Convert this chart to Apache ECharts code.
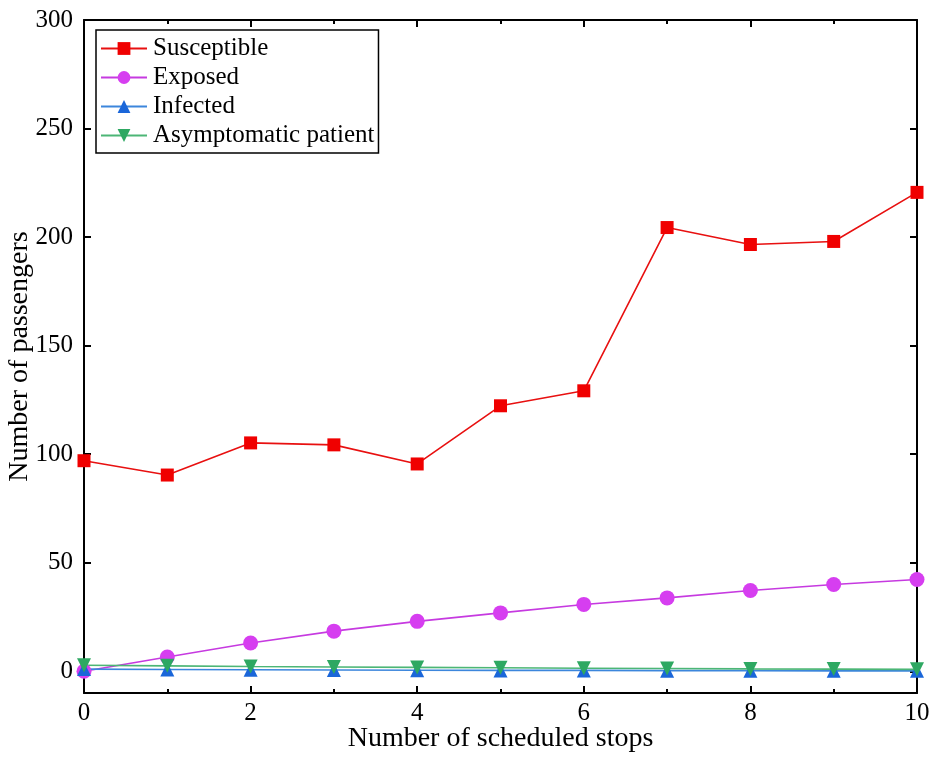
<!DOCTYPE html>
<html>
<head>
<meta charset="utf-8">
<script src="https://cdn.jsdelivr.net/npm/echarts@6/dist/echarts.min.js"></script>
<style>
html, body { margin: 0; padding: 0; background: #fff; }
#chart { width: 935px; height: 757px; }
</style>
</head>
<body>
<div id="chart"></div>
<script>
// 数据
const stops = [0, 1, 2, 3, 4, 5, 6, 7, 8, 9, 10];
const susceptible = [97, 90.4, 105.2, 104.3, 95.5, 122.3, 129.2, 204.4, 196.6, 198, 220.6];
const exposed = [0, 6.6, 13, 18.5, 23, 26.9, 30.8, 33.8, 37.2, 40, 42.3];
const infected = [1, 0.8, 0.7, 0.6, 0.5, 0.4, 0.4, 0.3, 0.3, 0.2, 0.2];
const asymptomatic = [2.8, 2.5, 2.2, 2, 1.8, 1.6, 1.4, 1.3, 1.1, 1.0, 0.9];
const yTicks = [0, 50, 100, 150, 200, 250, 300];

const chart = echarts.init(document.getElementById('chart'));
const font = 'Liberation Serif';

// 组合 [x, y]
const pairs = arr => stops.map((x, i) => [x, arr[i]]);

// 边框轴的公共样式
const axisLine = { show: true, onZero: false, lineStyle: { color: '#000', width: 2 } };

function makeSeries(name, data, color, lineColor, symbol, size, rotate) {
    return {
        name: name,
        type: 'line',
        data: pairs(data),
        symbol: symbol,
        symbolSize: size,
        symbolRotate: rotate || 0,
        lineStyle: { color: lineColor, width: 1.6 },
        itemStyle: { color: color },
        emphasis: { disabled: true },
        z: 3
    };
}

chart.setOption({
    backgroundColor: '#fff',
    animation: false,
    textStyle: { fontFamily: font },
    grid: { left: 84, right: 18, top: 20, bottom: 64, outerBoundsMode: 'none' },
    legend: {
        orient: 'vertical',
        left: 96,
        top: 30,
        padding: [6, 4, 5, 4],
        itemGap: 4,
        itemWidth: 46,
        itemHeight: 16,
        borderColor: '#000',
        borderWidth: 1.5,
        borderRadius: 0,
        textStyle: { fontFamily: font, fontSize: 25, color: '#000', padding: [0, 0, 0, 1] },
        data: ['Susceptible', 'Exposed', 'Infected', 'Asymptomatic patient']
    },
    xAxis: [{
        type: 'value',
        min: 0, max: 10, interval: 2,
        name: 'Number of scheduled stops',
        nameLocation: 'middle',
        nameGap: 32,
        nameMoveOverlap: false,
        nameTextStyle: { fontFamily: font, fontSize: 28, color: '#000' },
        axisLine: axisLine,
        axisTick: { show: true, inside: true, length: 7, lineStyle: { color: '#000', width: 2 } },
        minorTick: { show: true, splitNumber: 2, length: 4, lineStyle: { color: '#000', width: 2 } },
        axisLabel: { fontFamily: font, fontSize: 25, color: '#000', margin: 8 },
        splitLine: { show: false }
    }, {
        type: 'value',
        position: 'top',
        min: 0, max: 10, interval: 2,
        axisLine: axisLine,
        axisTick: { show: true, inside: true, length: 7, lineStyle: { color: '#000', width: 2 } },
        minorTick: { show: true, splitNumber: 2, length: 4, lineStyle: { color: '#000', width: 2 } },
        axisLabel: { show: false },
        splitLine: { show: false }
    }],
    yAxis: [{
        type: 'value',
        min: -10, max: 300,
        name: 'Number of passengers',
        nameLocation: 'middle',
        nameGap: 50,
        nameMoveOverlap: false,
        nameTextStyle: { fontFamily: font, fontSize: 28, color: '#000' },
        axisLine: axisLine,
        axisTick: { show: true, inside: true, length: 7, customValues: yTicks, lineStyle: { color: '#000', width: 2 } },
        axisLabel: { fontFamily: font, fontSize: 25, color: '#000', margin: 11, customValues: yTicks },
        splitLine: { show: false }
    }, {
        type: 'value',
        position: 'right',
        min: -10, max: 300,
        axisLine: axisLine,
        axisTick: { show: true, inside: true, length: 7, customValues: yTicks, lineStyle: { color: '#000', width: 2 } },
        axisLabel: { show: false, customValues: yTicks },
        splitLine: { show: false }
    }],
    series: [
        makeSeries('Susceptible', susceptible, '#f00000', '#e81010', 'rect', 13),
        makeSeries('Exposed', exposed, '#d63ef0', '#c63ae0', 'circle', 15),
        makeSeries('Infected', infected, '#1a66d9', '#3c86dc', 'triangle', 14),
        makeSeries('Asymptomatic patient', asymptomatic, '#2ea862', '#4cb676', 'triangle', 14, 180)
    ]
});
</script>
</body>
</html>
